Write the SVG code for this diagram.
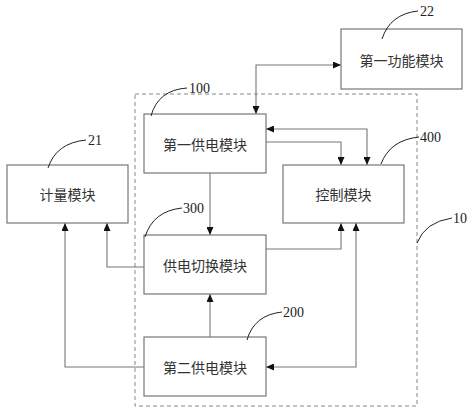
<svg xmlns="http://www.w3.org/2000/svg" width="474" height="413" viewBox="0 0 474 413">
<defs>
<marker id="arr" markerWidth="8" markerHeight="7" refX="8" refY="3.5" orient="auto-start-reverse" markerUnits="userSpaceOnUse">
<path d="M0,0 L8,3.5 L0,7 z" fill="#111"/>
</marker>
<style>
.box{fill:#fff;stroke:#777;stroke-width:1.2}
.lbl{font-family:"Noto Sans CJK SC","Noto Sans",sans-serif;font-size:14px;fill:#333;text-anchor:middle;dominant-baseline:central}
.num{font-family:"Liberation Serif",serif;font-size:14px;fill:#222;dominant-baseline:central}
.con{fill:none;stroke:#777;stroke-width:1.1}
.lead{fill:none;stroke:#222;stroke-width:1}
</style>
</defs>
<rect width="474" height="413" fill="#fff"/>
<g id="system10">
<rect x="135" y="94" width="282" height="312" fill="none" stroke="#888" stroke-width="1" stroke-dasharray="4,3"/>
<path class="lead" d="M417,243 Q425,222 452,218"/>
<text class="num" x="453" y="218">10</text>
</g>
<g id="connectors">
<path class="con" d="M256,114 V65 H341" marker-start="url(#arr)" marker-end="url(#arr)"/>
<path class="con" d="M266,129 H367 V165" marker-start="url(#arr)" marker-end="url(#arr)"/>
<path class="con" d="M266,142 H341 V165" marker-end="url(#arr)"/>
<path class="con" d="M210,173 V235" marker-end="url(#arr)"/>
<path class="con" d="M266,249 H341 V223" marker-end="url(#arr)"/>
<path class="con" d="M266,367 H356 V223" marker-start="url(#arr)" marker-end="url(#arr)"/>
<path class="con" d="M210,337 V294" marker-end="url(#arr)"/>
<path class="con" d="M144,267 H107 V223" marker-end="url(#arr)"/>
<path class="con" d="M144,367 H65 V223" marker-end="url(#arr)"/>
</g>
<g id="node22">
<rect class="box" x="341" y="29" width="121" height="60"/>
<text class="lbl" x="401.5" y="60">第一功能模块</text>
<path class="lead" d="M382,39 Q390,14 418,11"/>
<text class="num" x="420" y="11">22</text>
</g>
<g id="node100">
<rect class="box" x="144" y="114" width="122" height="59"/>
<text class="lbl" x="205" y="144">第一供电模块</text>
<path class="lead" d="M151,116 Q158,90 187,88"/>
<text class="num" x="189" y="88">100</text>
</g>
<g id="node400">
<rect class="box" x="283" y="165" width="121" height="58"/>
<text class="lbl" x="343.5" y="194">控制模块</text>
<path class="lead" d="M381,164 Q390,140 419,137"/>
<text class="num" x="420" y="137">400</text>
</g>
<g id="node21">
<rect class="box" x="7" y="165" width="121" height="58"/>
<text class="lbl" x="67.5" y="194">计量模块</text>
<path class="lead" d="M48,168 Q56,143 86,140"/>
<text class="num" x="88" y="140">21</text>
</g>
<g id="node300">
<rect class="box" x="144" y="235" width="122" height="59"/>
<text class="lbl" x="205" y="265">供电切换模块</text>
<path class="lead" d="M145,237 Q153,211 182,208"/>
<text class="num" x="183" y="208">300</text>
</g>
<g id="node200">
<rect class="box" x="144" y="337" width="122" height="59"/>
<text class="lbl" x="205" y="367">第二供电模块</text>
<path class="lead" d="M247,340 Q254,315 282,312"/>
<text class="num" x="283" y="312">200</text>
</g>
</svg>
